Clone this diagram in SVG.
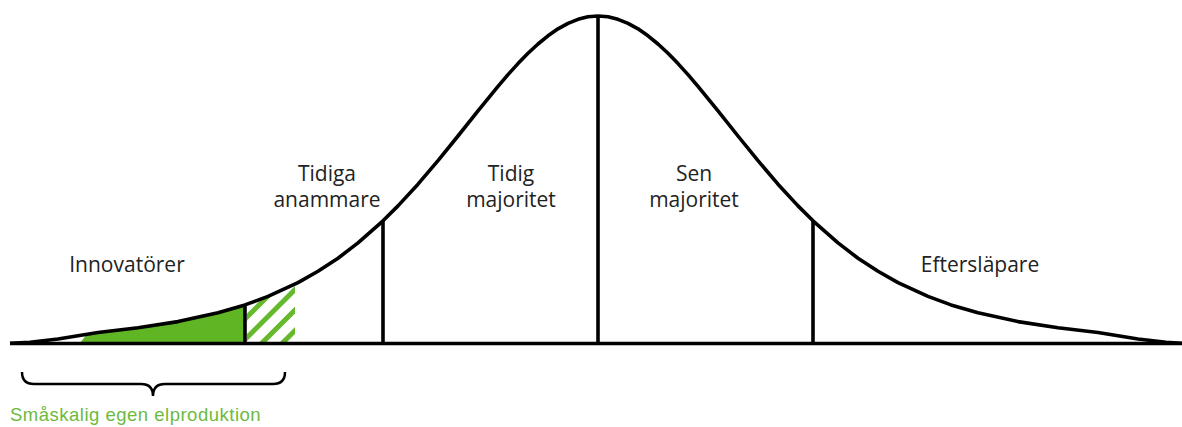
<svg xmlns="http://www.w3.org/2000/svg" width="1182" height="427" viewBox="0 0 1182 427">
<style>
.line{fill:none;stroke:#000;stroke-width:3.6;stroke-linejoin:round;stroke-linecap:butt}
.lbl{font-family:"Open Sans","Liberation Sans",sans-serif;font-size:21px;fill:#222;text-anchor:middle}
.grn{font-family:"Liberation Sans",Arial,sans-serif;font-size:18.5px;fill:#6cba3e;letter-spacing:0.5px}
.hatch{stroke:#66b82c;stroke-width:5;fill:none}
</style>
<defs>
<clipPath id="hc"><polygon points="247,343 247,304.3 268,296.4 295,284 295,343"/></clipPath>
</defs>
<rect width="1182" height="427" fill="#fff"/>
<g id="fill-innovators">
<polygon points="80,343 87,334 98,332.5 138,327.7 178,321.6 218,312.8 245,304.9 245,343" fill="#5fb524"/>
<g clip-path="url(#hc)">
<line class="hatch" x1="211" y1="353" x2="294" y2="270"/>
<line class="hatch" x1="231.5" y1="353" x2="314.5" y2="270"/>
<line class="hatch" x1="252" y1="353" x2="335" y2="270"/>
<line class="hatch" x1="272.5" y1="353" x2="355.5" y2="270"/>
</g>
</g>
<g id="connectors">
<path id="curve" class="line" d="M10,343.2 L30,342.2 L58,339 L98,332.5 L138,327.7 L178,321.6 L218,312.8 L245,304.9 L268,296.4 L298,282.6 L318,271.3 L338,258.2 L358,242.9 L383,220.8 L398,205.9 L418,184.2 L438,160.7 L458,136 L478,110.9 L498,86.3 L508,74.6 L518,63.6 L528,53.3 L538,44 L548,35.8 L558,28.8 L568,23.3 L578,19.3 L588,16.8 L598,16 L608,16.8 L618,19.3 L628,23.3 L638,28.8 L648,35.8 L658,44 L668,53.3 L678,63.6 L688,74.6 L698,86.3 L718,110.9 L738,136 L758,160.7 L778,184.2 L798,205.9 L813,220.8 L838,242.9 L858,258.2 L878,271.3 L898,282.6 L928,296.4 L951,304.9 L978,312.8 L1018,321.6 L1058,327.7 L1098,332.5 L1138,339 L1166,342.2 L1182,343.2"/>
<line class="line" x1="10" y1="343.5" x2="1182" y2="343.5"/>
<line class="line" x1="245" y1="304" x2="245" y2="343"/>
<line class="line" x1="383" y1="221" x2="383" y2="343"/>
<line class="line" x1="598" y1="16" x2="598" y2="343"/>
<line class="line" x1="813" y1="221" x2="813" y2="343"/>
<path id="brace" d="M22,372 Q22,384 34,384 L141,384 Q153,384 153,396 Q153,384 165,384 L273,384 Q285,384 285,372" fill="none" stroke="#000" stroke-width="2.5"/>
</g>
<g id="innovatorer"><text class="lbl" x="127" y="272">Innovatörer</text></g>
<g id="tidiga-anammare"><text class="lbl" x="327" y="181">Tidiga</text><text class="lbl" x="327" y="207">anammare</text></g>
<g id="tidig-majoritet"><text class="lbl" x="511" y="181">Tidig</text><text class="lbl" x="511" y="207">majoritet</text></g>
<g id="sen-majoritet"><text class="lbl" x="694" y="181">Sen</text><text class="lbl" x="694" y="207">majoritet</text></g>
<g id="efterslapare"><text class="lbl" x="980" y="272">Eftersläpare</text></g>
<g id="smaskalig"><text class="grn" x="10" y="421">Småskalig egen elproduktion</text></g>
</svg>
